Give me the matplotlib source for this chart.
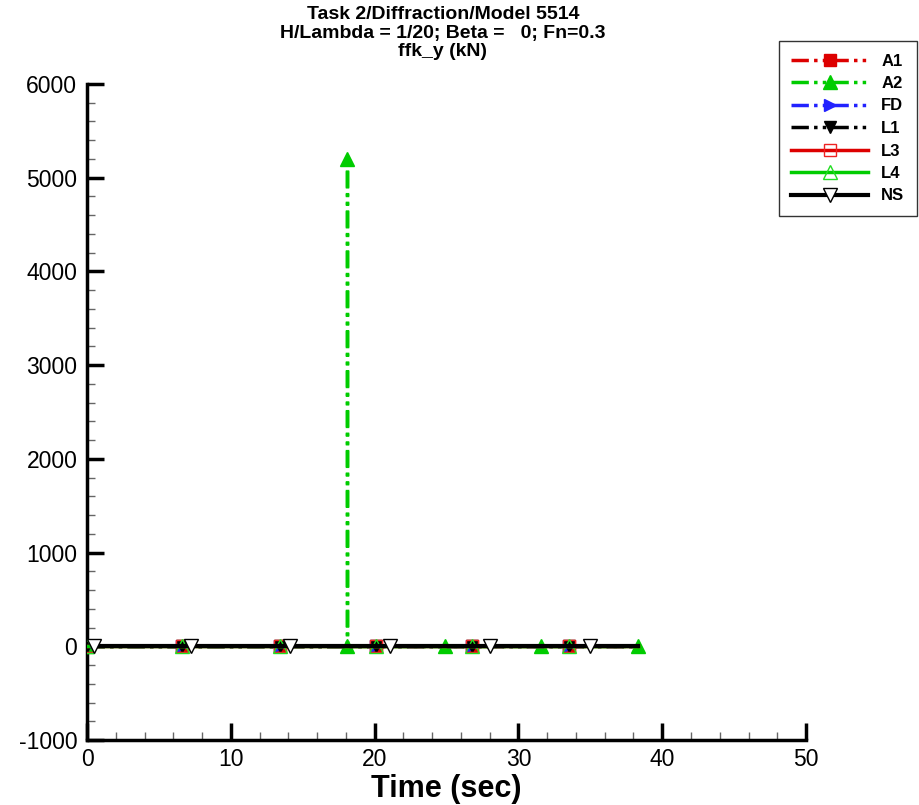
import matplotlib
matplotlib.use("Agg")
import matplotlib.pyplot as plt
from matplotlib.ticker import MultipleLocator

plt.rcParams['font.family'] = ['Liberation Sans', 'DejaVu Sans']
plt.rcParams['axes.unicode_minus'] = False

# ---- data ----
t_common = [0.0, 6.6, 13.4, 20.1, 26.8, 33.5, 38.3]
v_common = [0, 0, 0, 0, 0, 0, 0]
t_ns = [0.5, 7.2, 14.1, 21.1, 28.0, 35.0, 38.3]
v_ns = [0, 0, 0, 0, 0, 0, 0]
t_a2 = [0.0, 18.1, 18.1, 18.1, 24.9, 31.6, 38.3]
v_a2 = [0, 0, 5200, 0, 0, 0, 0]

series_names = ["A1", "A2", "FD", "L1", "L3", "L4", "NS"]
title_lines = ["Task 2/Diffraction/Model 5514",
               "H/Lambda = 1/20; Beta =   0; Fn=0.3",
               "ffk_y (kN)"]
x_label = "Time (sec)"

fig = plt.figure(figsize=(9.19, 8.05), dpi=100)
ax = fig.add_axes([0.0947, 0.0807, 0.7824, 0.8150])

dd = (0, (5, 1.5, 1, 1.5, 1, 1.5))
lw = 2.5
ms = 8.5

ax.plot(t_common, v_common, color='#dd0000', ls=dd, lw=lw, marker='s', ms=ms,
        markevery=list(range(6)), label=series_names[0], zorder=3)
ax.plot(t_a2, v_a2, color='#00cc00', ls=dd, lw=lw, marker='^', ms=ms + 1,
        markevery=[0, 1, 2, 4, 5, 6], label=series_names[1], zorder=3)
ax.plot(t_common, v_common, color='#2222ff', ls=dd, lw=lw, marker='>', ms=ms,
        markevery=list(range(6)), label=series_names[2], zorder=3)
ax.plot(t_common, v_common, color='black', ls=dd, lw=lw, marker='v', ms=ms,
        markevery=list(range(6)), label=series_names[3], zorder=3)
ax.plot(t_common, v_common, color='#dd0000', ls='-', lw=lw, marker='s', ms=ms,
        mfc='none', mec='#ee2222', mew=1, markevery=list(range(6)),
        label=series_names[4], zorder=3)
ax.plot(t_common, v_common, color='#00cc00', ls='-', lw=lw, marker='^', ms=ms + 1,
        mfc='none', mec='#22dd22', mew=1, markevery=list(range(6)),
        label=series_names[5], zorder=3)
ax.plot(t_ns, v_ns, color='black', ls='-', lw=3.0, marker='v', ms=ms + 1.5,
        mfc='white', mec='black', mew=1, markevery=list(range(6)),
        label=series_names[6], zorder=4)

ax.set_xlim(0, 50)
ax.set_ylim(-1000, 6000)
ax.xaxis.set_major_locator(MultipleLocator(10))
ax.xaxis.set_minor_locator(MultipleLocator(2))
ax.yaxis.set_major_locator(MultipleLocator(1000))
ax.yaxis.set_minor_locator(MultipleLocator(200))

for s in ['top', 'right']:
    ax.spines[s].set_visible(False)
for s in ['left', 'bottom']:
    ax.spines[s].set_linewidth(2.5)

ax.tick_params(which='major', direction='in', length=12, width=2.5, labelsize=16.5)
ax.tick_params(axis='y', which='major', pad=7)
ax.tick_params(axis='x', which='major', pad=6)
ax.tick_params(which='minor', direction='in', length=6, width=1, color='#666666')

ax.set_xlabel(x_label, fontsize=22, fontweight='bold', labelpad=2)

fig.text(0.482, 0.992, "\n".join(title_lines), ha='center', va='top',
         fontsize=14, fontweight='bold', linespacing=1.1)

leg = fig.legend(*ax.get_legend_handles_labels(), loc='upper right',
                 bbox_to_anchor=(917 / 919, 1 - 41 / 805),
                 bbox_transform=fig.transFigure, frameon=True,
                 fancybox=False, edgecolor='black',
                 prop={'weight': 'bold', 'size': 12}, handlelength=4.6,
                 handletextpad=0.8, labelspacing=0.45, borderpad=0.75,
                 borderaxespad=0)
leg.get_frame().set_linewidth(1.0)

fig.savefig("out.png", dpi=100)
